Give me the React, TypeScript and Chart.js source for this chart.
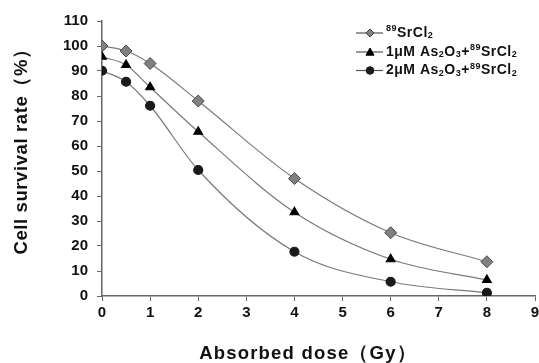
import React, { useEffect, useRef } from "react";
import { Chart, registerables } from "chart.js";

Chart.register(...registerables);

const doses = [0, 0.5, 1, 2, 4, 6, 8];
const srOnly = [100, 98, 93, 78, 47, 25.3, 13.7];
const as1Sr = [95.7, 92.4, 83.5, 65.7, 33.5, 14.7, 6.4];
const as2Sr = [90.1, 85.7, 76.1, 50.4, 17.7, 5.7, 1.3];
const xTicks = [0, 1, 2, 3, 4, 5, 6, 7, 8, 9];
const yTicks = [0, 10, 20, 30, 40, 50, 60, 70, 80, 90, 100, 110];

const FONT = "'Liberation Sans', Arial, sans-serif";

type Part = { t: string; k?: "sup" | "sub" };
const legendItems: { parts: Part[]; style: string; fill: string; stroke: string; r: number }[] = [
  { parts: [{ t: "89", k: "sup" }, { t: "SrCl" }, { t: "2", k: "sub" }], style: "rectRot", fill: "#808080", stroke: "#404040", r: 4 },
  { parts: [{ t: "1μM As" }, { t: "2", k: "sub" }, { t: "O" }, { t: "3", k: "sub" }, { t: "+" }, { t: "89", k: "sup" }, { t: "SrCl" }, { t: "2", k: "sub" }], style: "triangle", fill: "#000", stroke: "#000", r: 4 },
  { parts: [{ t: "2μM As" }, { t: "2", k: "sub" }, { t: "O" }, { t: "3", k: "sub" }, { t: "+" }, { t: "89", k: "sup" }, { t: "SrCl" }, { t: "2", k: "sub" }], style: "circle", fill: "#1a1a1a", stroke: "#1a1a1a", r: 3.8 },
];

function drawMarker(ctx: CanvasRenderingContext2D, style: string, x: number, y: number, r: number) {
  ctx.beginPath();
  if (style === "rectRot") {
    ctx.moveTo(x, y - r);
    ctx.lineTo(x + r, y);
    ctx.lineTo(x, y + r);
    ctx.lineTo(x - r, y);
    ctx.closePath();
  } else if (style === "triangle") {
    ctx.moveTo(x, y - r);
    ctx.lineTo(x + r, y + r * 0.8);
    ctx.lineTo(x - r, y + r * 0.8);
    ctx.closePath();
  } else {
    ctx.arc(x, y, r, 0, Math.PI * 2);
  }
  ctx.fill();
  ctx.stroke();
}

const overlayPlugin = {
  id: "overlay",
  afterDraw(chart: any) {
    const ctx = chart.ctx as CanvasRenderingContext2D;
    ctx.save();
    ctx.fillStyle = "#111";
    ctx.font = `bold 18.5px ${FONT}`;
    ctx.textAlign = "center";
    ctx.textBaseline = "middle";
    (ctx as any).letterSpacing = "1.2px";
    ctx.fillText("Absorbed dose（Gy）", 308, 354);
    (ctx as any).letterSpacing = "0.6px";
    ctx.save();
    ctx.translate(22, 147);
    ctx.rotate(-Math.PI / 2);
    ctx.fillText("Cell survival rate（%）", 0, 0);
    ctx.restore();

    (ctx as any).letterSpacing = "0.5px";
    const ys = [33, 52, 70.5];
    legendItems.forEach((it, i) => {
      const y = ys[i];
      ctx.strokeStyle = "#555";
      ctx.lineWidth = 1.2;
      ctx.beginPath();
      ctx.moveTo(356, y);
      ctx.lineTo(383, y);
      ctx.stroke();
      ctx.lineWidth = 1;
      ctx.fillStyle = it.fill;
      ctx.strokeStyle = it.stroke;
      drawMarker(ctx, it.style, 370, y, it.r);
      let x = 386;
      ctx.textAlign = "left";
      ctx.textBaseline = "middle";
      ctx.fillStyle = "#111";
      it.parts.forEach((p) => {
        if (p.k === "sup") {
          ctx.font = `bold 9px ${FONT}`;
          ctx.fillText(p.t, x, y - 4);
        } else if (p.k === "sub") {
          ctx.font = `bold 9px ${FONT}`;
          ctx.fillText(p.t, x, y + 3);
        } else {
          ctx.font = `bold 14px ${FONT}`;
          ctx.fillText(p.t, x, y);
        }
        x += ctx.measureText(p.t).width;
      });
    });
    ctx.restore();
  },
};

export default function App() {
  const ref = useRef<HTMLCanvasElement>(null);
  useEffect(() => {
    document.body.style.margin = "0";
    const mk = (vals: number[]) => doses.map((d, i) => ({ x: d, y: vals[i] }));
    const chart = new Chart(ref.current!, {
      type: "line",
      data: {
        datasets: [
          {
            label: "89SrCl2",
            data: mk(srOnly),
            borderColor: "#7a7a7a",
            borderWidth: 1.2,
            pointBackgroundColor: "#808080",
            pointBorderColor: "#4a4a4a",
            pointBorderWidth: 1,
            pointStyle: "rectRot",
            pointRadius: 6,
            cubicInterpolationMode: "monotone",
          },
          {
            label: "1μM As2O3+89SrCl2",
            data: mk(as1Sr),
            borderColor: "#7a7a7a",
            borderWidth: 1.2,
            pointBackgroundColor: "#000",
            pointBorderColor: "#000",
            pointStyle: "triangle",
            pointRadius: 5,
            cubicInterpolationMode: "monotone",
          },
          {
            label: "2μM As2O3+89SrCl2",
            data: mk(as2Sr),
            borderColor: "#7a7a7a",
            borderWidth: 1.2,
            pointBackgroundColor: "#1a1a1a",
            pointBorderColor: "#1a1a1a",
            pointStyle: "circle",
            pointRadius: 4.5,
            cubicInterpolationMode: "monotone",
          },
        ],
      },
      options: {
        responsive: false,
        animation: false,
        layout: { autoPadding: false, padding: { left: 0, right: 4, top: 21, bottom: 0 } },
        plugins: { legend: { display: false }, tooltip: { enabled: false } },
        scales: {
          x: {
            type: "linear",
            min: 0,
            max: 9,
            afterBuildTicks: (s: any) => {
              s.ticks = xTicks.map((v) => ({ value: v }));
            },
            ticks: { color: "#111", font: { family: FONT, size: 15, weight: "bold" }, padding: 3, maxRotation: 0 },
            grid: { drawOnChartArea: false, drawTicks: true, tickLength: 5, color: "#666" },
            border: { color: "#666", width: 1.5 },
            afterFit: (s: any) => {
              s.height = 67;
              s.paddingLeft = 0;
              s.paddingRight = 0;
            },
          },
          y: {
            min: 0,
            max: 110,
            afterBuildTicks: (s: any) => {
              s.ticks = yTicks.map((v) => ({ value: v }));
            },
            ticks: { color: "#111", font: { family: FONT, size: 15, weight: "bold" }, padding: 9 },
            grid: { drawOnChartArea: false, drawTicks: true, tickLength: 5, color: "#666" },
            border: { color: "#666", width: 1.5 },
            afterFit: (s: any) => {
              s.width = 102;
              s.paddingTop = 0;
              s.paddingBottom = 0;
            },
          },
        },
      },
      plugins: [overlayPlugin],
    } as any);
    return () => chart.destroy();
  }, []);
  return <canvas ref={ref} width={539} height={363} />;
}
